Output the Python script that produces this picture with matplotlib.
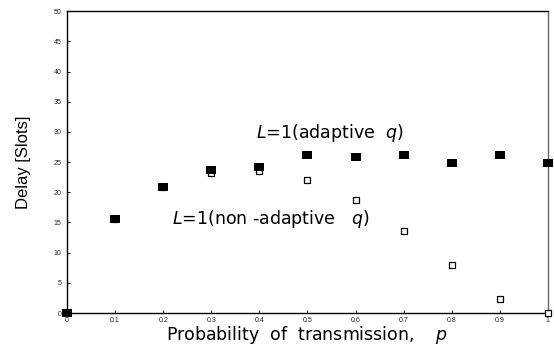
import matplotlib
matplotlib.use('Agg')
import matplotlib.pyplot as plt

plt.rcParams['font.family'] = ['Liberation Sans', 'DejaVu Sans']
plt.rcParams['mathtext.fontset'] = 'custom'
plt.rcParams['mathtext.rm'] = 'DejaVu Sans'
plt.rcParams['mathtext.it'] = 'DejaVu Sans:italic'

# 数据
p = [0, 0.1, 0.2, 0.3, 0.4, 0.5, 0.6, 0.7, 0.8, 0.9, 1.0]
delay_adaptive = [0, 15.5, 20.9, 23.7, 24.2, 26.2, 25.8, 26.2, 24.9, 26.2, 24.9]
delay_nonadaptive = [0, 15.5, 20.9, 23.2, 23.6, 22.0, 18.8, 13.6, 7.9, 2.3, 0]
xticks = [0, 0.1, 0.2, 0.3, 0.4, 0.5, 0.6, 0.7, 0.8, 0.9, 1]
xtick_labels = ['0', '0.1', '0.2', '0.3', '0.4', '0.5', '0.6', '0.7', '0.8', '0.9', '1']
yticks = [0, 5, 10, 15, 20, 25, 30, 35, 40, 45, 50]

# 扁平的矩形标记
rect = [(-1.3, -1), (1.3, -1), (1.3, 1), (-1.3, 1), (-1.3, -1)]

fig = plt.figure(figsize=(5.54, 3.49), dpi=100)
ax = fig.add_axes([0.121, 0.103, 0.868, 0.865])

# 非自适应（空心方块）
ax.plot(p, delay_nonadaptive, linestyle='none', marker='s', markersize=4.3,
        markerfacecolor='white', markeredgecolor='black', markeredgewidth=0.9,
        clip_on=False, zorder=3)
# 自适应（实心方块）
ax.plot(p, delay_adaptive, linestyle='none', marker=rect, markersize=7.3,
        markerfacecolor='black', markeredgecolor='black', markeredgewidth=0,
        clip_on=False, zorder=4)

ax.set_xlim(0, 1)
ax.set_ylim(0, 50)
ax.set_xticks(xticks)
ax.set_xticklabels(xtick_labels)
ax.set_yticks(yticks)
ax.tick_params(direction='in', length=2, width=0.6, labelsize=5,
               labelcolor='#222222', pad=4)
ax.tick_params(axis='x', pad=3)

for s in ['left', 'bottom', 'top']:
    ax.spines[s].set_linewidth(1.0)
    ax.spines[s].set_color('black')
ax.spines['right'].set_color('#666666')
ax.spines['right'].set_linewidth(1.0)

ax.set_xlabel('Probability  of  transmission,    $\\mathit{p}$', fontsize=12.5,
              family='DejaVu Sans', labelpad=0)
ax.set_ylabel('Delay [Slots]', fontsize=12, labelpad=16)

ax.text(0.393, 29.0, '$\\mathit{L}$=1(adaptive  $\\mathit{q}$)', fontsize=12.5,
        family='DejaVu Sans')
ax.text(0.218, 14.8, '$\\mathit{L}$=1(non -adaptive   $\\mathit{q}$)', fontsize=12.5,
        family='DejaVu Sans')

fig.savefig('out.png', dpi=100)
